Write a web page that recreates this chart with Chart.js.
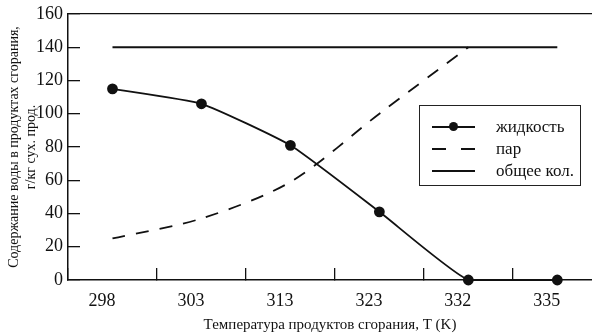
<!DOCTYPE html>
<html>
<head>
<meta charset="utf-8">
<script src="https://cdn.jsdelivr.net/npm/chart.js@4"></script>
<style>
  body { margin: 0; background: #fff; }
  #wrap { position: relative; width: 592px; height: 334px; }
  #legend {
    position: absolute; left: 419px; top: 105px; width: 162px; height: 81px;
    box-sizing: border-box; border: 1.5px solid #222; padding-top: 10px;
    font-family: "Liberation Serif", serif; font-size: 17px; color: #111;
  }
  #legend .row { display: flex; align-items: center; height: 22px; }
  #legend .sample { position: relative; width: 43px; height: 2px; margin-left: 12px; margin-right: 21px; background: #111; }
  #legend .sample.dashed { background: linear-gradient(to right, #111 0 14px, transparent 14px 29px, #111 29px 43px); }
  #legend .sample i { position: absolute; left: 17px; top: -4px; width: 9px; height: 9px; border-radius: 50%; background: #111; }
</style>
</head>
<body>
<div id="wrap">
  <canvas id="chart" width="592" height="334"></canvas>
  <div id="legend"></div>
</div>
<script>
const temps = ["298", "303", "313", "323", "332", "335"];
const liquid = [115, 106, 81, 41, 0, 0];
const vapour = [25, 37, 59, 100, 140, null];
const total = [140, 140, 140, 140, 140, 140];

const ink = "#111";
const serif = "'Liberation Serif', 'Times New Roman', serif";

// categories sit at 0..5 on a linear axis, tick marks between them
const toPoints = (arr) => arr.map((y, i) => ({ x: i, y }));

// legend built from the datasets, drawn as a framed box inside the plot
const htmlLegend = {
  id: "htmlLegend",
  afterUpdate(chart) {
    const box = document.getElementById("legend");
    box.innerHTML = "";
    chart.data.datasets.forEach((ds) => {
      const row = document.createElement("div");
      row.className = "row";
      const sample = document.createElement("span");
      sample.className = "sample" + (ds.borderDash && ds.borderDash.length ? " dashed" : "");
      if (ds.pointRadius > 0) sample.appendChild(document.createElement("i"));
      const label = document.createElement("span");
      label.textContent = ds.label;
      row.append(sample, label);
      box.appendChild(row);
    });
  },
};

const ctx = document.getElementById("chart").getContext("2d");
new Chart(ctx, {
  type: "line",
  data: {
    datasets: [
      {
        label: "жидкость",
        data: toPoints(liquid),
        borderColor: ink,
        backgroundColor: ink,
        borderWidth: 1.8,
        borderDash: [],
        pointRadius: 4.5,
        pointHoverRadius: 4.5,
        tension: 0.15,
        clip: false,
      },
      {
        label: "пар",
        data: toPoints(vapour),
        borderColor: ink,
        borderWidth: 1.8,
        borderDash: [13, 11],
        pointRadius: 0,
        tension: 0.3,
        clip: false,
      },
      {
        label: "общее кол.",
        data: toPoints(total),
        borderColor: ink,
        borderWidth: 1.8,
        borderDash: [],
        pointRadius: 0,
        tension: 0,
      },
    ],
  },
  options: {
    responsive: false,
    animation: false,
    layout: { autoPadding: false, padding: { top: 14, right: 0, bottom: 0, left: 0 } },
    plugins: { legend: { display: false }, tooltip: { enabled: false } },
    scales: {
      x: {
        type: "linear",
        min: -0.5,
        max: 5.39,
        afterBuildTicks: (s) => { s.ticks = temps.map((_, i) => ({ value: i - 0.5 })); },
        grid: { drawOnChartArea: false, tickLength: -12, color: ink, lineWidth: 1.3 },
        border: { color: ink, width: 1.5 },
        ticks: {
          color: ink,
          font: { family: serif, size: 18 },
          padding: 22,
          labelOffset: 34,
          maxRotation: 0,
          autoSkip: false,
          callback: (v, i) => temps[i],
        },
        title: {
          display: true,
          text: "Температура продуктов сгорания, T (K)",
          color: ink,
          font: { family: serif, size: 15 },
          padding: { top: 0, bottom: 0 },
        },
        afterFit: (s) => { s.height = 54; s.paddingLeft = 0; s.paddingRight = 0; },
      },
      y: {
        min: 0,
        max: 160,
        ticks: { stepSize: 20, color: ink, font: { family: serif, size: 18 }, padding: 17 },
        grid: {
          color: (c) => (c.tick && c.tick.value === 160 ? ink : "transparent"),
          tickColor: ink,
          tickLength: -12,
          lineWidth: 1.3,
        },
        border: { color: ink, width: 1.5 },
        title: {
          display: true,
          text: ["Содержание воды в продуктах сгорания,", "г/кг сух. прод."],
          color: ink,
          font: { family: serif, size: 14 },
          padding: { top: 6, bottom: 0 },
        },
        afterFit: (s) => { s.width = 68; s.paddingTop = 0; s.paddingBottom = 0; },
      },
    },
  },
  plugins: [htmlLegend],
});
</script>
</body>
</html>
